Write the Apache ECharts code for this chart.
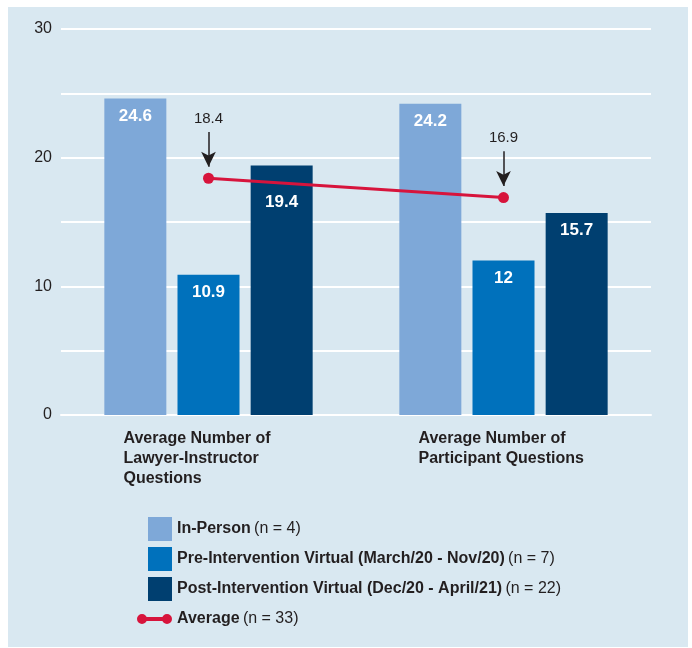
<!DOCTYPE html>
<html lang="en">
<head>
    <meta charset="utf-8"/>
    <title>Average Number of Questions</title>
    <script src="https://cdn.jsdelivr.net/npm/echarts@6/dist/echarts.min.js"></script>
    <style>
        html, body { margin: 0; padding: 0; background: #ffffff; }
        #panel { position: absolute; left: 8px; top: 7px; width: 680px; height: 640px; background: #d9e8f1; }
        #chart { position: absolute; left: 0; top: 0; width: 692px; height: 648px; }
    </style>
</head>
<body>
<div id="panel"></div>
<div id="chart"></div>
<script>
    // data
    var categories = ['Average Number of\nLawyer-Instructor\nQuestions', 'Average Number of\nParticipant Questions'];
    var inPerson = [24.6, 24.2];
    var preVirtual = [10.9, 12];
    var postVirtual = [19.4, 15.7];
    var average = [18.4, 16.9];
    var seriesNames = ['In-Person', 'Pre-Intervention Virtual (March/20 - Nov/20)', 'Post-Intervention Virtual (Dec/20 - April/21)', 'Average'];
    var seriesCounts = ['(n = 4)', '(n = 7)', '(n = 22)', '(n = 33)'];
    var yTicks = [0, 10, 20, 30];

    var FONT = "'Liberation Sans Narrow', 'Liberation Sans', Arial, sans-serif";
    var colors = ['#7ea8d8', '#0071bc', '#003f70', '#d7143c'];

    var chart = echarts.init(document.getElementById('chart'));

    var barLabel = {
        show: true,
        position: 'insideTop',
        distance: 9,
        color: '#ffffff',
        fontFamily: FONT,
        fontWeight: 'bold',
        fontSize: 17
    };

    var makeBar = function (idx, values) {
        // push a label down when the average line runs across it
        var data = values.map(function (v, k) {
            if (v > average[k] && v - average[k] < 2) {
                return { value: v, label: { distance: 28 } };
            }
            return v;
        });
        return {
            name: seriesNames[idx],
            type: 'bar',
            data: data,
            barWidth: 62,
            barGap: '18%',
            itemStyle: { color: colors[idx] },
            label: barLabel,
            z: 2
        };
    };

    // arrows pointing at the average points
    var arrows = [];
    for (var i = 0; i < average.length; i++) {
        arrows.push([
            { coord: [i, average[i] + 3.6], label: { formatter: String(average[i]) } },
            { coord: [i, average[i] + 0.9] }
        ]);
    }

    var squareIcon = 'path://M0,0M11,0h24v24h-24z';
    // red line with a dot at each end, right-aligned in the same box as the squares
    var lineIcon = 'path://M0,0M35,24M0,12a5,5 0 1,1 10,0a5,5 0 1,1 -10,0zM25,12a5,5 0 1,1 10,0a5,5 0 1,1 -10,0zM9,10h17v4h-17z';

    var option = {
        animation: false,
        textStyle: { fontFamily: FONT },
        grid: { left: 61, right: 41, top: 29, bottom: 233 },
        legend: {
            orient: 'vertical',
            left: 132,
            top: 512,
            itemWidth: 35,
            itemHeight: 24,
            itemGap: 6,
            data: [
                { name: seriesNames[0], icon: squareIcon },
                { name: seriesNames[1], icon: squareIcon },
                { name: seriesNames[2], icon: squareIcon },
                { name: seriesNames[3], icon: lineIcon, itemStyle: { color: colors[3], borderColor: colors[3], borderWidth: 0 } }
            ],
            formatter: function (name) {
                var k = seriesNames.indexOf(name);
                return '{b|' + name + '} {n|' + seriesCounts[k] + '}';
            },
            textStyle: {
                rich: {
                    b: { fontFamily: FONT, fontWeight: 'bold', fontSize: 16, color: '#231f20' },
                    n: { fontFamily: FONT, fontSize: 16, color: '#231f20' }
                }
            }
        },
        xAxis: {
            type: 'category',
            data: categories,
            axisLine: { show: true, lineStyle: { color: '#ffffff', width: 2 } },
            axisTick: { show: false },
            axisLabel: {
                margin: 14,
                lineHeight: 20,
                formatter: function (v) {
                    return v.split('\n').map(function (s) { return '{t|' + s + '}'; }).join('\n');
                },
                rich: {
                    t: { width: 170, align: 'left', fontFamily: FONT, fontWeight: 'bold', fontSize: 16, lineHeight: 20, color: '#231f20' }
                }
            }
        },
        yAxis: {
            type: 'value',
            min: 0,
            max: 30,
            interval: 5,
            axisLine: { show: false },
            axisTick: { show: false },
            splitLine: { lineStyle: { color: '#ffffff', width: 2 } },
            axisLabel: {
                margin: 9,
                fontFamily: FONT,
                fontSize: 16,
                color: '#231f20',
                formatter: function (v) { return yTicks.indexOf(v) >= 0 ? String(v) : ''; }
            }
        },
        series: [
            makeBar(0, inPerson),
            makeBar(1, preVirtual),
            makeBar(2, postVirtual),
            {
                name: seriesNames[3],
                type: 'line',
                data: average,
                symbol: 'circle',
                symbolSize: 11,
                itemStyle: { color: colors[3] },
                lineStyle: { color: colors[3], width: 3 },
                z: 5,
                markLine: {
                    silent: true,
                    symbol: ['none', 'arrow'],
                    symbolSize: [11, 15],
                    lineStyle: { color: '#231f20', width: 1.5, type: 'solid' },
                    label: {
                        position: 'start',
                        distance: 6,
                        color: '#231f20',
                        fontFamily: FONT,
                        fontSize: 15
                    },
                    data: arrows
                }
            }
        ]
    };
    chart.setOption(option);
</script>
</body>
</html>
